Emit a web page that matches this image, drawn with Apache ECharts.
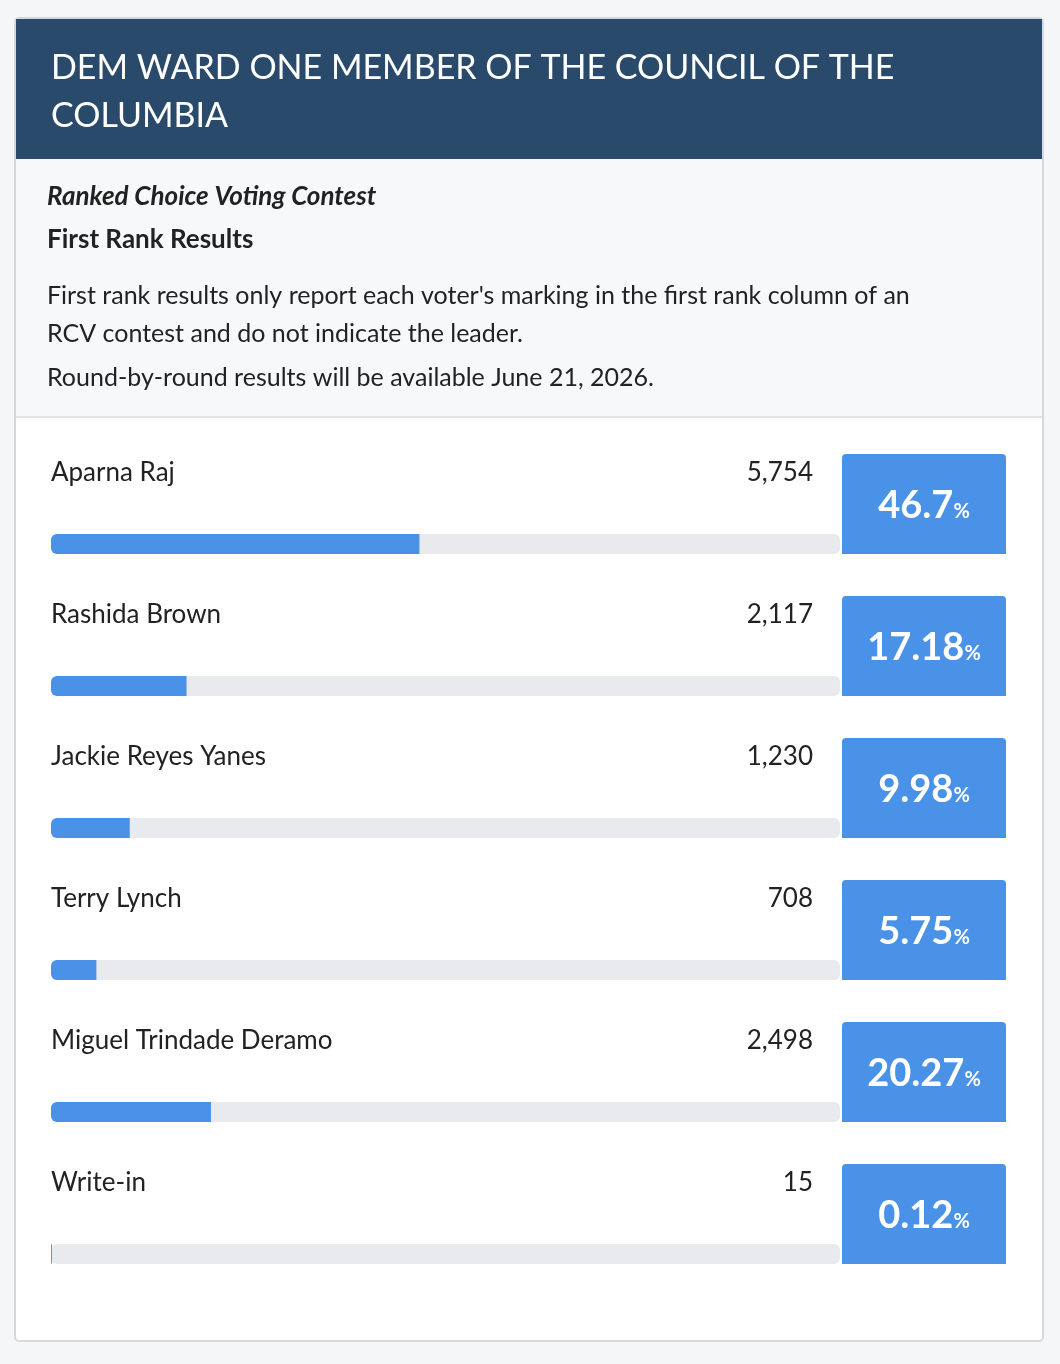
<!DOCTYPE html>
<html><head><meta charset="utf-8">
<script src="https://cdn.jsdelivr.net/npm/echarts@6/dist/echarts.min.js"></script>
<style>html,body{margin:0;padding:0;background:#f4f6f8;}#c{width:1060px;height:1364px;}</style>
</head><body><div id="c"></div>
<script>
const candidates = ["Aparna Raj","Rashida Brown","Jackie Reyes Yanes","Terry Lynch","Miguel Trindade Deramo","Write-in"];
const votes = [5754, 2117, 1230, 708, 2498, 15];
const percents = [46.7, 17.18, 9.98, 5.75, 20.27, 0.12];
const title = "DEM WARD ONE MEMBER OF THE COUNCIL OF THE\nCOLUMBIA";
const notes = ["Ranked Choice Voting Contest","First Rank Results",
 "First rank results only report each voter's marking in the first rank column of an\nRCV contest and do not indicate the leader.",
 "Round-by-round results will be available June 21, 2026."];

const F = "Lato, 'Noto Sans', sans-serif";
const chart = echarts.init(document.getElementById('c'));
const grids=[], xAxes=[], yAxes=[], series=[];
const graphic = [
 {type:'rect',shape:{x:15,y:18,width:1028,height:1323,r:4},style:{fill:'#fff',stroke:'#d5d9de',lineWidth:2}},
 {type:'rect',shape:{x:16,y:19,width:1026,height:140},style:{fill:'#2a4a6b'}},
 {type:'rect',shape:{x:16,y:159,width:1026,height:258},style:{fill:'#f7f8fa'}},
 {type:'line',shape:{x1:16,y1:417,x2:1042,y2:417},style:{stroke:'#d8dce0',lineWidth:1.5}},
 {type:'text',x:51,y:44,style:{text:title,fill:'#fff',font:'34px '+F,lineHeight:48}},
 {type:'text',x:47,y:184,style:{text:notes[0],fill:'#222',font:'italic bold 26px '+F}},
 {type:'text',x:47,y:227,style:{text:notes[1],fill:'#222',font:'bold 26px '+F}},
 {type:'text',x:47,y:277,style:{text:notes[2],fill:'#222',font:'25px '+F,lineHeight:38}},
 {type:'text',x:47,y:365,style:{text:notes[3],fill:'#222',font:'25px '+F}}
];
candidates.forEach((name,i)=>{
  const y0 = 454 + i*142;
  grids.push({left:51,width:789,top:y0+80,height:20});
  xAxes.push({type:'value',gridIndex:i,min:0,max:100,show:false});
  yAxes.push({type:'category',gridIndex:i,data:[name],show:false});
  series.push({type:'bar',xAxisIndex:i,yAxisIndex:i,data:[percents[i]],barWidth:20,
    itemStyle:{color:'#4a92e8',borderRadius:[6,0,0,6]},showBackground:true,
    backgroundStyle:{color:'#e9eaee',borderRadius:6},animation:false});
  graphic.push({type:'text',x:51,y:y0+6,style:{text:name,fill:'#222',font:'26px '+F}});
  graphic.push({type:'text',x:813,y:y0+6,style:{text:votes[i].toLocaleString('en-US'),fill:'#222',font:'26px '+F,align:'right'}});
  graphic.push({type:'rect',shape:{x:842,y:y0,width:164,height:100,r:[4,4,0,0]},style:{fill:'#4a92e8'}});
  graphic.push({type:'text',x:924,y:y0+52,style:{text:'{a|'+percents[i]+'}{b|%}',align:'center',verticalAlign:'middle',
    rich:{a:{fill:'#fff',font:'bold 38px '+F},b:{fill:'#fff',font:'bold 20px '+F,padding:[12,0,0,0]}}}});
});
chart.setOption({animation:false,grid:grids,xAxis:xAxes,yAxis:yAxes,series,graphic});
</script></body></html>
